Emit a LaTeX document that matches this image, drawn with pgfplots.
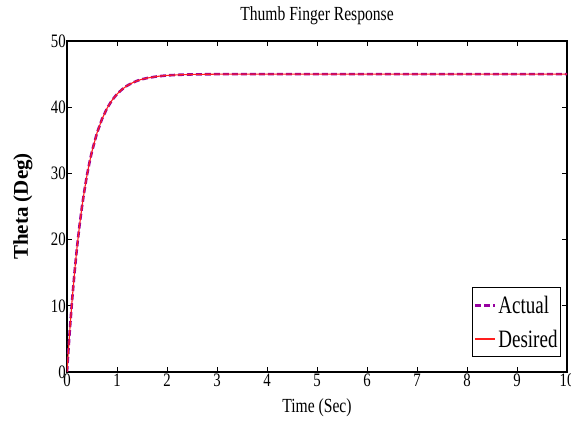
\documentclass[border=0pt]{standalone}
\usepackage{fontspec}
\setmainfont{Liberation Serif}
\newfontfamily\condfont[FakeStretch=0.78]{Liberation Serif}
\newfontfamily\legfont[FakeStretch=0.76]{Liberation Serif}
\usepackage{pgfplots}
\pgfplotsset{compat=1.18}
\definecolor{actpurple}{RGB}{150,0,160}
\definecolor{desred}{RGB}{255,30,30}
\pgfplotstableread{
t theta
0 0
0.05 5.69
0.1 10.66
0.15 14.98
0.2 18.8
0.25 22.1
0.3 25.0
0.35 27.5
0.4 29.74
0.45 31.65
0.5 33.35
0.6 36.11
0.7 38.21
0.8 39.82
0.9 41.05
1.0 41.98
1.1 42.68
1.2 43.24
1.3 43.65
1.4 43.98
1.5 44.22
1.6 44.40
1.8 44.65
2.0 44.80
2.25 44.90
2.5 44.95
3.0 44.99
4.0 45.0
5.0 45.0
6.0 45.0
7.0 45.0
8.0 45.0
9.0 45.0
10.0 45.0
}\datatable
\begin{document}
\begin{tikzpicture}
\path[use as bounding box] (-67pt,-50pt) rectangle (504pt,372pt);
\begin{axis}[
  at={(0,0)}, anchor=south west,
  scale only axis, width=500pt, height=331pt,
  xmin=0, xmax=10, ymin=0, ymax=50,
  xtick={0,1,...,10}, ytick={0,10,...,50},
  tick align=inside, major tick length=5pt,
  tick style={black, line width=0.8pt},
  axis line style={line width=1.3pt},
  /pgf/number format/assume math mode=true,
  tick label style={font=\condfont\fontsize{19}{19}\selectfont},
  yticklabel style={inner sep=1pt},
  xticklabel style={inner sep=2pt},
  title={\condfont\fontsize{20}{20}\selectfont Thumb Finger Response},
  title style={at={(axis description cs:0.5,1)}, anchor=base, yshift=14pt, inner sep=0pt},
  xlabel={\condfont\fontsize{20}{20}\selectfont Time (Sec)},
  xlabel style={at={(axis description cs:0.5,0)}, anchor=base, yshift=-41pt, inner sep=0pt},
  ylabel={\fontsize{21}{21}\selectfont\bfseries Theta (Deg)},
  ylabel style={at={(axis description cs:-0.078,0.5)}, anchor=base, inner sep=0pt},
  legend style={at={(axis description cs:0.988,0.045)}, anchor=south east,
    inner xsep=1pt, inner ysep=6pt, line width=1pt,
    font=\legfont\fontsize{25}{27}\selectfont,
    row sep=11pt},
  legend cell align=left,
]
\addplot[draw=actpurple, line width=2.6pt, dash pattern=on 6pt off 3pt,
  legend image code/.code={\draw[actpurple, line width=2.8pt, dash pattern=on 6pt off 3pt] (0pt,0pt) -- (20pt,0pt);}]
  table[x=t,y=theta]{\datatable};
\addlegendentry{Actual}
\addplot[draw=desred, line width=1.1pt,
  legend image code/.code={\draw[desred, line width=1.8pt] (0pt,0pt) -- (20pt,0pt);}]
  table[x=t,y=theta]{\datatable};
\addlegendentry{Desired}
\end{axis}
\end{tikzpicture}
\end{document}
